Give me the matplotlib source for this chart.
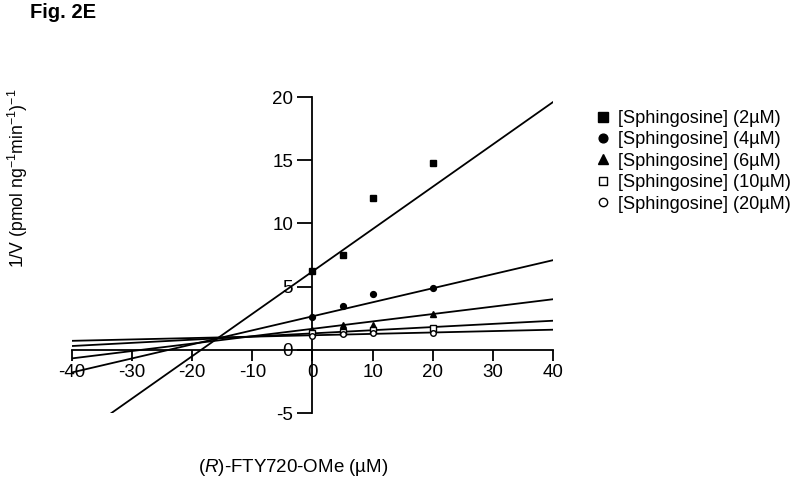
import matplotlib
matplotlib.use("Agg")
import matplotlib.pyplot as plt
import numpy as np

plt.rcParams['font.family'] = ['Liberation Sans', 'DejaVu Sans']
plt.rcParams['mathtext.fontset'] = 'custom'
plt.rcParams['mathtext.rm'] = 'Liberation Sans'
plt.rcParams['mathtext.it'] = 'Liberation Sans:italic'

# Data
conc = [0, 5, 10, 20]
series_labels = ["[Sphingosine] (2µM)", "[Sphingosine] (4µM)", "[Sphingosine] (6µM)",
                 "[Sphingosine] (10µM)", "[Sphingosine] (20µM)"]
inv_v_2 = [6.2, 7.5, 12.0, 14.8]
inv_v_4 = [2.6, 3.5, 4.4, 4.9]
inv_v_6 = [1.6, 2.0, 2.0, 2.8]
inv_v_10 = [1.3, 1.4, 1.6, 1.7]
inv_v_20 = [1.1, 1.25, 1.3, 1.3]
# fitted lines: intercept, slope
fit_intercepts = [6.2, 2.65, 1.66, 1.3, 1.15]
fit_slopes = [0.335, 0.111, 0.0585, 0.025, 0.011]
x_ticks = [-40, -30, -20, -10, 0, 10, 20, 30, 40]
y_ticks = [-5, 0, 5, 10, 15, 20]

series = [inv_v_2, inv_v_4, inv_v_6, inv_v_10, inv_v_20]
markers = ['s', 'o', '^', 's', 'o']
faces = ['black', 'black', 'black', 'white', 'white']
msizes = [5, 4.2, 5, 4, 4]

fig = plt.figure(figsize=(8, 4.8), dpi=100)
ax = fig.add_axes([72/800, 1-413/480, (553-72)/800, (413-97)/480])
ax.set_xlim(-40, 40)
ax.set_ylim(-5, 20)

xl = np.array([-40.0, 40.0])
for b, m in zip(fit_intercepts, fit_slopes):
    ax.plot(xl, b + m*xl, color='black', lw=1.3, zorder=2)

handles = []
for ys, mk, fc, ms, lab in zip(series, markers, faces, msizes, series_labels):
    h, = ax.plot(conc, ys, linestyle='none', marker=mk, markersize=ms,
                 markerfacecolor=fc, markeredgecolor='black', markeredgewidth=1.0,
                 label=lab, zorder=3, clip_on=False)
    handles.append(h)

for s in ['top', 'right']:
    ax.spines[s].set_visible(False)
ax.spines['left'].set_position(('data', 0))
ax.spines['bottom'].set_position(('data', 0))
ax.spines['left'].set_linewidth(1.3)
ax.spines['bottom'].set_linewidth(1.3)
ax.set_xticks(x_ticks)
ax.set_yticks(y_ticks)
ax.set_xticklabels([str(v) for v in x_ticks])
ax.set_yticklabels([str(v) for v in y_ticks])
ax.tick_params(axis='x', direction='out', length=8, width=1.3, labelsize=13.5, pad=2)
ax.tick_params(axis='y', direction='out', length=11, width=1.3, labelsize=13.5, pad=3)
for t in ax.get_yticklabels():
    t.set_zorder(5)

fig.text(30/800, 1-13/480, "Fig. 2E", fontsize=14.5, fontweight='bold', va='center', ha='left')
fig.text(18/800, 1-178/480, "1/V (pmol ng$^{-1}$min$^{-1}$)$^{-1}$", rotation=90,
         fontsize=12.7, va='center', ha='center')
fig.text(293/800, 1-467/480, "($\\it{R}$)-FTY720-OMe (µM)", fontsize=13.5, va='center', ha='center')

leg = fig.legend(handles=handles, labels=series_labels, loc='upper left',
                 bbox_to_anchor=(587/800, 1-101/480), frameon=False, fontsize=13.1,
                 handlelength=0.8, handletextpad=0.4, labelspacing=0.24, borderpad=0,
                 markerscale=1.5)

fig.savefig("out.png", dpi=100)
